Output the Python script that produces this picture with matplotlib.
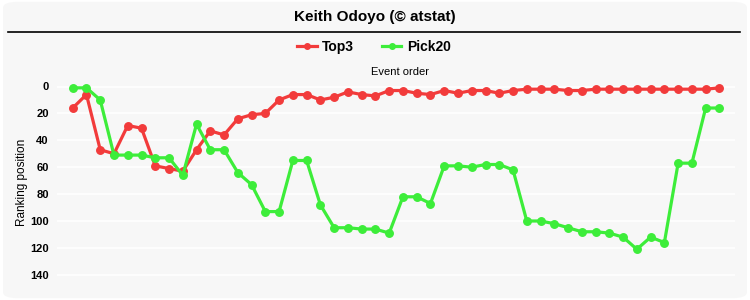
import matplotlib
matplotlib.use("Agg")
import matplotlib.pyplot as plt
from matplotlib.patches import FancyBboxPatch
from matplotlib.lines import Line2D

plt.rcParams['font.family'] = ['Liberation Sans', 'DejaVu Sans']

title = "Keith Odoyo (© atstat)"
series_names = ["Top3", "Pick20"]
top3 = [16, 6, 47, 50, 29, 31, 59, 61, 63, 47, 33, 36, 24, 21, 20, 10, 6, 6, 10, 8,
        4, 6, 7, 3, 3, 5, 6, 3, 5, 3, 3, 5, 3, 2, 2, 2, 3, 3, 2, 2,
        2, 2, 2, 2, 2, 2, 2, 1]
pick20 = [1, 1, 10, 51, 51, 51, 53, 53, 66, 28, 47, 47, 64, 73, 93, 93, 55, 55, 88, 105,
          105, 106, 106, 109, 82, 82, 87, 59, 59, 60, 58, 58, 62, 100, 100, 102, 105, 108, 108, 109,
          112, 121, 112, 116, 57, 57, 16, 16]
events = list(range(1, len(top3) + 1))
yticks = [0, 20, 40, 60, 80, 100, 120, 140]

RED = '#f23b3b'
GREEN = '#3ded3a'

fig = plt.figure(figsize=(7.5, 3.0), dpi=100)
fig.patch.set_facecolor('white')
bg = FancyBboxPatch((0.004, 0.006), 0.992, 0.988, boxstyle="round,pad=0,rounding_size=0.02",
                    transform=fig.transFigure, facecolor='#f7f7f7', edgecolor='none', zorder=-10)
fig.patches.append(bg)

ax = fig.add_axes([57/750, 1 - 288/300, (735 - 57)/750, (288 - 78)/300])
ax.set_facecolor('none')
ax.plot(events, top3, color=RED, lw=2.3, marker='o', ms=5.4, zorder=3)
ax.plot(events, pick20, color=GREEN, lw=2.3, marker='o', ms=5.4, zorder=3)

ax.set_xlim(1 + (57 - 72.7)/13.76, 1 + (735 - 72.7)/13.76)
ax.set_ylim((288 - 86.5)/1.345, (78 - 86.5)/1.345)
ax.set_yticks(yticks)
ax.set_yticklabels([str(v) for v in yticks], fontweight='bold', fontsize=8)
ax.set_xticks([])
ax.tick_params(axis='y', length=0, pad=6)
ax.grid(axis='y', color='white', lw=1.2)
ax.set_axisbelow(True)
for s in ax.spines.values():
    s.set_visible(False)

fig.text(22/750, 1 - 182/300, "Ranking position", rotation=90, ha='center', va='center', fontsize=8.5)
fig.text(400/750, 1 - 72/300, "Event order", ha='center', va='center', fontsize=8)
fig.text(375/750, 1 - 17/300, title, ha='center', va='center', fontsize=11, fontweight='bold')
fig.add_artist(Line2D([8/750, 740/750], [1 - 31.5/300, 1 - 31.5/300], color='black', lw=1.2,
                      transform=fig.transFigure))

handles = [Line2D([], [], color=RED, lw=2.3, marker='o', ms=4),
           Line2D([], [], color=GREEN, lw=2.3, marker='o', ms=4)]
leg = fig.legend(handles, series_names, loc='center', bbox_to_anchor=(374/750, 1 - 47/300), ncol=2,
                 frameon=False, handlelength=1.4, handletextpad=0.4, columnspacing=2.0,
                 prop={'weight': 'bold', 'size': 10})

fig.savefig('out.png', dpi=100, facecolor='white')
